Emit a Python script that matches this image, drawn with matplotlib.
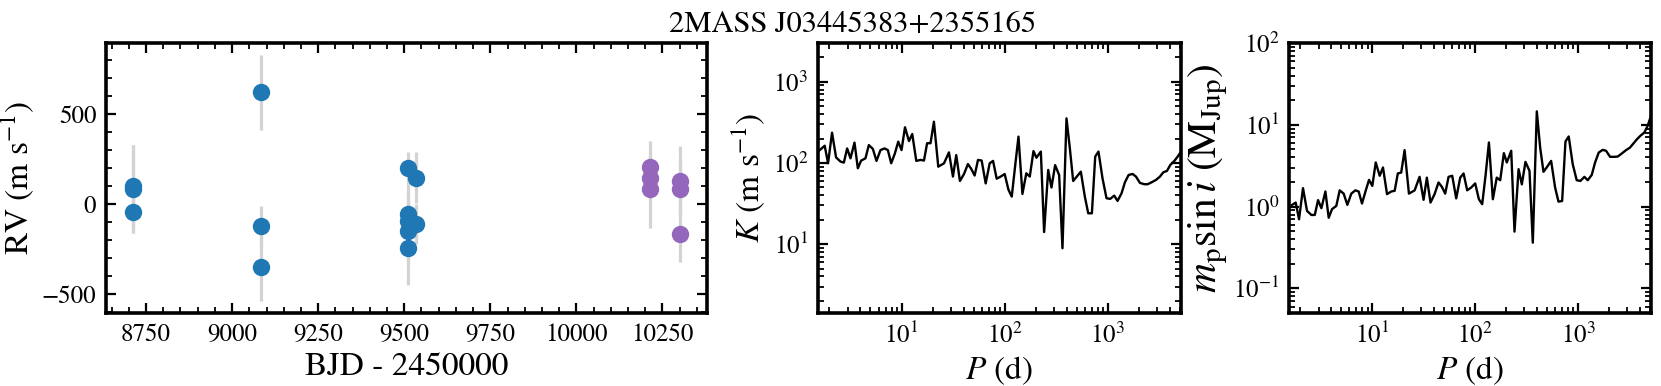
import numpy as np
import matplotlib
matplotlib.use("Agg")
import matplotlib.pyplot as plt
from matplotlib.ticker import MultipleLocator, LogLocator, NullFormatter

plt.rcParams['font.family'] = ['STIXGeneral', 'DejaVu Serif']
plt.rcParams['mathtext.fontset'] = 'stix'

title = "2MASS J03445383+2355165"

# ---- RV data (BJD - 2450000, RV, error) ----
t_a = [8713, 8713, 8713, 9083, 9083, 9083, 9512, 9512, 9512, 9512, 9512, 9533, 9533]
rv_a = [99, 80, -45, 618, -125, -352, 197, -56, -97, -153, -246, 145, -115]
err_a = [229, 246, 121, 207, 112, 188, 92, 170, 150, 160, 205, 144, 112]

t_b = [10213, 10213, 10213, 10300, 10300, 10300]
rv_b = [205, 140, 80, 127, 84, -168]
err_b = [141, 120, 218, 193, 150, 158]

# ---- detection limits vs period ----
P = [1.55, 1.80, 1.94, 2.12, 2.32, 2.56, 2.76, 2.97, 3.20, 3.50, 3.77, 4.06, 4.47,
     4.82, 5.27, 5.72, 6.25, 6.84, 7.37, 7.94, 8.62, 9.29, 10.0, 10.8, 11.8, 12.7,
     13.9, 15.3, 16.5, 17.7, 19.1, 20.6, 22.7,
     25.8, 28.8, 31.5, 33.9, 36.8, 40.3, 44.0, 47.5, 51.1, 55.1, 59.8, 65.4, 71.5,
     77.1, 83.6, 91.4, 100, 108.6, 117, 126, 136, 148.5, 162, 175, 190, 203, 224,
     241, 264, 284, 308, 337,
     363, 397, 428, 461, 500, 547, 598, 645, 700, 754, 811, 887, 970, 1054, 1152,
     1241, 1358, 1463, 1588, 1735, 1871, 2046, 2254, 2428, 2656, 2926, 3199, 3446,
     3739, 4029, 4406, 4747, 5114]

K = [138, 163, 99, 236, 117, 104, 101, 151, 114, 178, 86, 107, 114,
     166, 149, 106, 144, 151, 144, 99, 131, 183, 144, 275, 186, 227,
     106, 109, 107, 175, 175, 322, 90,
     99, 135, 68, 125, 60, 73, 97, 84, 70, 109, 107, 56, 99,
     106, 64, 68, 73, 47, 38.5, 90, 211, 41.6, 74.6, 68, 140, 116, 138,
     14.1, 82, 49.8, 94, 71,
     8.9, 354, 151, 60, 68, 78, 38.5, 24.0, 24.0, 120, 138, 64.7, 36.8, 36.1, 39.6,
     34.1, 42.4, 57.8, 71.1, 73.2, 68, 56.8, 54.7, 54.7, 57.8, 61.8, 68, 76.7,
     79.8, 94.5, 105.8, 119.7, 137.8]

Msini = [0.99, 1.12, 0.70, 1.68, 0.885, 0.79, 0.79, 1.20, 0.955, 1.53, 0.73, 0.93, 1.02,
         1.58, 1.44, 1.05, 1.44, 1.58, 1.53, 1.09, 1.56, 2.12, 1.79, 3.46, 2.38, 3.01,
         1.42, 1.53, 1.56, 2.54, 2.61, 4.90, 1.44,
         1.58, 2.31, 1.21, 2.26, 1.12, 1.42, 1.97, 1.74, 1.44, 2.31, 2.38, 1.26, 2.26,
         2.54, 1.58, 1.71, 1.92, 1.23, 1.07, 2.38, 6.08, 1.23, 2.26, 2.10, 4.50, 3.46, 4.81,
         0.494, 2.87, 1.87, 3.52, 2.74,
         0.362, 14.6, 5.27, 2.66, 3.06, 3.62, 1.71, 1.15, 1.17, 6.25, 7.20, 3.30, 2.10, 2.06, 2.31,
         2.10, 2.44, 3.46, 4.58, 4.94, 4.81, 4.06, 4.06, 4.09, 4.45, 4.90, 5.27, 5.90,
         6.67, 7.33, 8.05, 9.72, 12.9]

W, H = 1661, 386
fig = plt.figure(figsize=(W / 100, H / 100), dpi=100)

def px_axes(x0, x1, y0, y1):
    return fig.add_axes([x0 / W, 1 - y1 / H, (x1 - x0) / W, (y1 - y0) / H])

ax1 = px_axes(106, 707, 43, 313)
ax2 = px_axes(818, 1181, 43, 313)
ax3 = px_axes(1289, 1651, 43, 313)

TICK_FS = 18
LAB_FS = 24

def style(ax):
    for s in ax.spines.values():
        s.set_linewidth(2.6)
    ax.tick_params(which='both', direction='in', top=True, right=True,
                   labelsize=TICK_FS)
    ax.tick_params(which='major', length=7.5, width=1.6, pad=7)
    ax.tick_params(which='minor', length=4, width=1.3)

# Left: RV time series
ax1.errorbar(t_a, rv_a, yerr=err_a, fmt='none', ecolor='lightgray',
             elinewidth=2.3, zorder=1)
ax1.errorbar(t_b, rv_b, yerr=err_b, fmt='none', ecolor='lightgray',
             elinewidth=2.3, zorder=1)
ax1.plot(t_a, rv_a, 'o', color='#1f77b4', ms=11.5, zorder=3)
ax1.plot(t_b, rv_b, 'o', color='#9467bd', ms=11.5, zorder=3)
ax1.xaxis.set_major_locator(MultipleLocator(250))
ax1.xaxis.set_minor_locator(MultipleLocator(50))
ax1.yaxis.set_major_locator(MultipleLocator(500))
ax1.yaxis.set_minor_locator(MultipleLocator(100))
ax1.set_xlabel("BJD - 2450000", fontsize=LAB_FS)
ax1.set_ylabel(r"RV (m s$^{-1}$)", fontsize=LAB_FS)
style(ax1)

# Middle: K vs P
ax2.plot(P, K, color='black', lw=1.7)
ax2.set_xscale('log')
ax2.set_yscale('log')
ax2.set_xlim(P[0], P[-1])
ax2.set_ylim(1.42, 3000)
ax2.set_xlabel(r"$P$ (d)", fontsize=LAB_FS)
ax2.set_ylabel(r"$K$ (m s$^{-1}$)", fontsize=LAB_FS)

# Right: m sin i vs P
ax3.plot(P, Msini, color='black', lw=1.7)
ax3.set_xscale('log')
ax3.set_yscale('log')
ax3.set_xlim(P[0], P[-1])
ax3.set_ylim(0.05, 100)
ax3.set_xlabel(r"$P$ (d)", fontsize=LAB_FS)
ax3.set_ylabel(r"$m_{\rm p}\sin i$ (M$_{\rm Jup}$)", fontsize=30, labelpad=2)

for ax in (ax2, ax3):
    ax.xaxis.set_major_locator(LogLocator(base=10, numticks=10))
    ax.xaxis.set_minor_locator(LogLocator(base=10, subs=np.arange(2, 10), numticks=20))
    ax.yaxis.set_major_locator(LogLocator(base=10, numticks=10))
    ax.yaxis.set_minor_locator(LogLocator(base=10, subs=np.arange(2, 10), numticks=20))
    ax.xaxis.set_minor_formatter(NullFormatter())
    ax.yaxis.set_minor_formatter(NullFormatter())
    style(ax)

fig.text(853 / W, 1 - 32 / H, title, ha='center', va='baseline', fontsize=22)

fig.savefig("out.png", dpi=100)
